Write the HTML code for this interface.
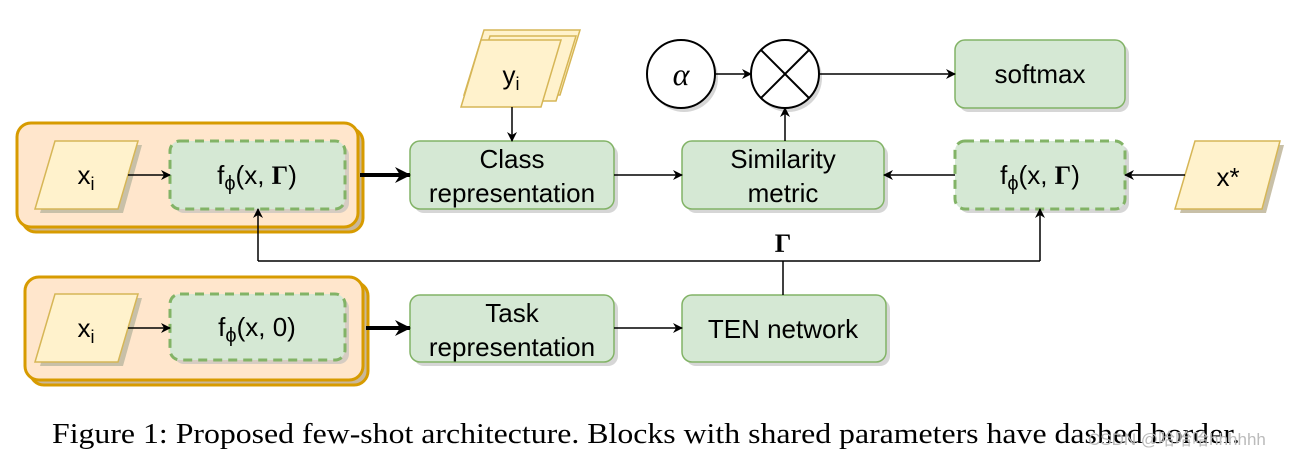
<!DOCTYPE html>
<html><head><meta charset="utf-8"><style>
html,body{margin:0;padding:0;background:#fff;}
svg{display:block}
text{font-family:"Liberation Sans",sans-serif;}
text.serif,tspan.serif{font-family:"Liberation Serif",serif;}
</style></head><body>
<svg width="1306" height="457" viewBox="0 0 1306 457" xmlns="http://www.w3.org/2000/svg">
<defs>
<marker id="a" markerWidth="10" markerHeight="10" refX="9" refY="5" orient="auto" markerUnits="userSpaceOnUse"><path d="M0,0 L10,5 L0,10 L3,5 Z" fill="#000"/></marker>
<marker id="b" markerWidth="16" markerHeight="16" refX="15" refY="8" orient="auto" markerUnits="userSpaceOnUse"><path d="M0,0 L16,8 L0,16 L5,8 Z" fill="#000"/></marker>
</defs>
<rect x="22" y="128" width="341" height="104" rx="14" fill="#c9b79a" stroke="#d79b00" stroke-width="3"/>
<rect x="17" y="123" width="341" height="104" rx="14" fill="#ffe6cc" stroke="#d79b00" stroke-width="3"/>
<rect x="30" y="282" width="338" height="103" rx="14" fill="#c9b79a" stroke="#d79b00" stroke-width="3"/>
<rect x="25" y="277" width="338" height="103" rx="14" fill="#ffe6cc" stroke="#d79b00" stroke-width="3"/>
<g fill="#c8c0a8"><polygon points="60,145 142,145 123,213 40,213"/><polygon points="60,298 142,298 123,366 40,366"/>
<polygon points="1200,145 1284,145 1266,213 1180,213"/></g>
<g fill="#fff2cc" stroke="#d6b656" stroke-width="1.5">
<polygon points="55,141 138,141 118,209 35,209"/>
<polygon points="55,294 138,294 118,362 35,362"/>
<polygon points="1195,141 1280,141 1262,209 1175,209"/>
<polygon points="484,30 580,30 560,95 464,95"/>
<polygon points="490,36 576,36 556,101 470,101"/>
<polygon points="481,40 561,40 541,107 461,107"/>
</g>
<g font-size="26" text-anchor="middle" fill="#000">
<text x="86" y="184">x<tspan font-size="18" dy="6">i</tspan></text>
<text x="86" y="337">x<tspan font-size="18" dy="6">i</tspan></text>
<text x="1228" y="186">x*</text>
<text x="511" y="84">y<tspan font-size="18" dy="6">i</tspan></text>
</g>
<g fill="#bbb" opacity="0.6">
<rect x="174" y="145" width="175" height="68" rx="10"/><rect x="174" y="298" width="175" height="66" rx="10"/>
<rect x="414" y="145" width="204" height="68" rx="10"/><rect x="414" y="299" width="204" height="67" rx="10"/>
<rect x="686" y="145" width="202" height="68" rx="10"/><rect x="686" y="299" width="204" height="67" rx="10"/>
<rect x="959" y="145" width="170" height="68" rx="10"/><rect x="959" y="44" width="170" height="68" rx="10"/>
</g>
<g fill="#d5e8d4" stroke="#82b366" stroke-width="1.5">
<rect x="410" y="141" width="204" height="68" rx="10"/>
<rect x="410" y="295" width="204" height="67" rx="10"/>
<rect x="682" y="141" width="202" height="68" rx="10"/>
<rect x="682" y="295" width="204" height="67" rx="10"/>
<rect x="955" y="40" width="170" height="68" rx="10"/>
</g>
<g fill="#d5e8d4" stroke="#82b366" stroke-width="3" stroke-dasharray="9,6">
<rect x="170" y="141" width="175" height="68" rx="10"/>
<rect x="170" y="294" width="175" height="66" rx="10"/>
<rect x="955" y="141" width="170" height="68" rx="10"/>
</g>
<g font-size="26" text-anchor="middle" fill="#000">
<text x="257" y="184">f<tspan font-size="20" dy="6">ϕ</tspan><tspan dy="-6">(x, </tspan><tspan class="serif" font-weight="bold">Γ</tspan>)</text>
<text x="257" y="336">f<tspan font-size="20" dy="6">ϕ</tspan><tspan dy="-6">(x, 0)</tspan></text>
<text x="1040" y="184">f<tspan font-size="20" dy="6">ϕ</tspan><tspan dy="-6">(x, </tspan><tspan class="serif" font-weight="bold">Γ</tspan>)</text>
<text x="512" y="168">Class</text><text x="512" y="202">representation</text>
<text x="512" y="322">Task</text><text x="512" y="356">representation</text>
<text x="783" y="168">Similarity</text><text x="783" y="202">metric</text>
<text x="783" y="338">TEN network</text>
<text x="1040" y="83">softmax</text>
</g>
<circle cx="684" cy="78" r="34" fill="#bbb" opacity="0.6"/><circle cx="788" cy="78" r="34" fill="#bbb" opacity="0.6"/>
<circle cx="681" cy="74" r="34" fill="#fff" stroke="#000" stroke-width="2"/>
<text class="serif" x="681" y="85" font-style="italic" font-size="32" text-anchor="middle">α</text>
<circle cx="785" cy="74" r="34" fill="#fff" stroke="#000" stroke-width="2"/>
<path d="M761,50 L809,98 M809,50 L761,98" stroke="#000" stroke-width="2"/>
<g stroke="#000" stroke-width="1.5" fill="none">
<line x1="128" y1="175" x2="170" y2="175" marker-end="url(#a)"/>
<line x1="128" y1="328" x2="170" y2="328" marker-end="url(#a)"/>
<line x1="512" y1="107" x2="512" y2="141" marker-end="url(#a)"/>
<line x1="614" y1="175" x2="682" y2="175" marker-end="url(#a)"/>
<line x1="614" y1="328" x2="682" y2="328" marker-end="url(#a)"/>
<line x1="955" y1="175" x2="884" y2="175" marker-end="url(#a)"/>
<line x1="1185" y1="175" x2="1125" y2="175" marker-end="url(#a)"/>
<line x1="715" y1="74" x2="751" y2="74" marker-end="url(#a)"/>
<line x1="819" y1="74" x2="955" y2="74" marker-end="url(#a)"/>
<line x1="785" y1="141" x2="785" y2="108" marker-end="url(#a)"/>
<path d="M783,295 L783,261 M258,261 L1040,261"/>
<line x1="258" y1="261" x2="258" y2="209" marker-end="url(#a)"/>
<line x1="1040" y1="261" x2="1040" y2="209" marker-end="url(#a)"/>
</g>
<g stroke="#000" stroke-width="4">
<line x1="360" y1="175" x2="410" y2="175" marker-end="url(#b)"/>
<line x1="366" y1="328" x2="410" y2="328" marker-end="url(#b)"/>
</g>
<text class="serif" x="783" y="252" font-weight="bold" font-size="26" text-anchor="middle">Γ</text>
<text class="serif" x="52" y="443" font-size="29" textLength="1188" lengthAdjust="spacingAndGlyphs">Figure 1: Proposed few-shot architecture. Blocks with shared parameters have dashed border.</text>
<text x="1088" y="445" font-size="17" fill="#bbb">CSDN @哈哈哈hhhhhh</text>
</svg>
</body></html>
